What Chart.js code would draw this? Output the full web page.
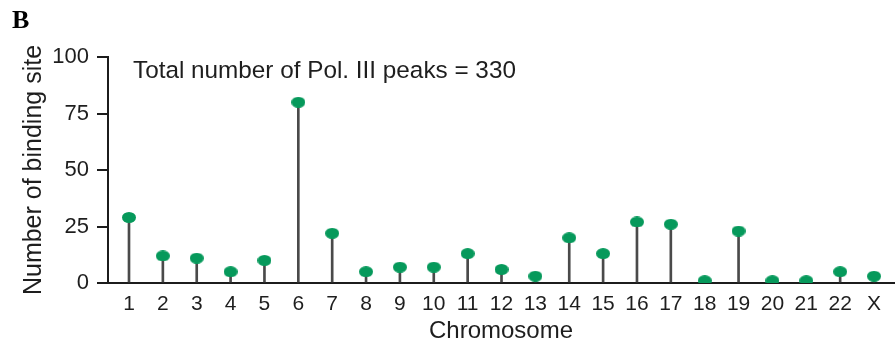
<!DOCTYPE html>
<html>
<head>
<meta charset="utf-8">
<script src="https://cdn.jsdelivr.net/npm/chart.js@4.4.0/dist/chart.umd.min.js"></script>
<style>
  html, body { margin: 0; padding: 0; background: #fff; }
  canvas { display: block; }
</style>
</head>
<body>
<canvas id="c" width="896" height="349"></canvas>
<script>
// Pol. III binding sites per chromosome
const chromosomes = ['1','2','3','4','5','6','7','8','9','10','11','12','13','14','15','16','17','18','19','20','21','22','X'];
const bindingSites = [29, 12, 11, 5, 10, 80, 22, 5, 7, 7, 13, 6, 3, 20, 13, 27, 26, 1, 23, 1, 1, 5, 3];
const yTicks = [0, 25, 50, 75, 100];

const totalPeaks = bindingSites.reduce((a, b) => a + b, 0);
// chromosome index on x, count on y
const points = chromosomes.map((c, i) => ({ x: i, y: bindingSites[i] }));

const AXIS = '#1c1c1c';
const TEXT = '#1e1e1e';
const STEM = '#4a4a4a';
const DOT = '#06995b';
const SANS = '"Liberation Sans", Arial, sans-serif';

// elliptical lollipop head
function makeDot(w, h) {
  const cv = document.createElement('canvas');
  cv.width = w; cv.height = h;
  const g = cv.getContext('2d');
  g.fillStyle = DOT;
  g.beginPath();
  g.ellipse(w / 2, h / 2, w / 2, h / 2, 0, 0, Math.PI * 2);
  g.fill();
  return cv;
}
const dot = makeDot(14, 11);

const decorations = {
  id: 'decorations',
  beforeDraw(chart) {
    const ctx = chart.ctx;
    ctx.save();
    ctx.fillStyle = '#fff';
    ctx.fillRect(0, 0, chart.width, chart.height);
    ctx.restore();
  },
  afterDraw(chart) {
    const ctx = chart.ctx;
    ctx.save();
    ctx.fillStyle = '#000';
    ctx.font = 'bold 26px "Liberation Serif", "Times New Roman", serif';
    ctx.textBaseline = 'alphabetic';
    ctx.fillText('B', 12, 28);
    ctx.fillStyle = TEXT;
    ctx.font = '24.3px ' + SANS;
    ctx.textBaseline = 'middle';
    ctx.fillText('Total number of Pol. III peaks = ' + totalPeaks, 133, 71);
    ctx.restore();
  }
};

new Chart(document.getElementById('c'), {
  data: {
    datasets: [
      {
        type: 'line',
        data: points,
        showLine: false,
        pointStyle: dot,
        pointRadius: 7,
        pointHoverRadius: 7,
        clip: { left: false, top: false, right: false, bottom: 0 },
        order: 0
      },
      {
        type: 'bar',
        data: points,
        backgroundColor: STEM,
        barThickness: 2,
        order: 1
      }
    ]
  },
  plugins: [decorations],
  options: {
    responsive: false,
    animation: false,
    devicePixelRatio: 1,
    layout: { autoPadding: false, padding: { top: 57, right: 2, bottom: 0, left: 0 } },
    plugins: { legend: { display: false }, tooltip: { enabled: false } },
    scales: {
      x: {
        type: 'linear',
        offset: false,
        min: -0.62,
        max: 22.59,
        afterBuildTicks(scale) { scale.ticks = chromosomes.map((c, i) => ({ value: i })); },
        grid: { display: false, drawTicks: false, offset: false },
        border: { display: true, color: AXIS, width: 2 },
        ticks: {
          color: TEXT,
          font: { family: SANS, size: 21 },
          padding: 9,
          maxRotation: 0,
          autoSkip: false,
          callback: (v) => chromosomes[v]
        },
        title: { display: true, text: 'Chromosome', color: TEXT, font: { family: SANS, size: 24 }, padding: { top: 0, bottom: 3 } },
        afterFit(scale) {
          scale.height = 66;
          scale.paddingLeft = 0;
          scale.paddingRight = 0;
        }
      },
      y: {
        min: 0,
        max: 100,
        afterBuildTicks(scale) { scale.ticks = yTicks.map(v => ({ value: v })); },
        grid: { drawOnChartArea: false, drawTicks: true, tickLength: 11, color: AXIS, lineWidth: 2 },
        border: { display: true, color: AXIS, width: 2 },
        ticks: { color: TEXT, font: { family: SANS, size: 22 }, padding: 8 },
        title: { display: true, text: 'Number of binding site', color: TEXT, font: { family: SANS, size: 25 }, padding: { top: 19, bottom: 0 } },
        afterFit(scale) { scale.width = 108; }
      }
    }
  }
});
</script>
</body>
</html>
